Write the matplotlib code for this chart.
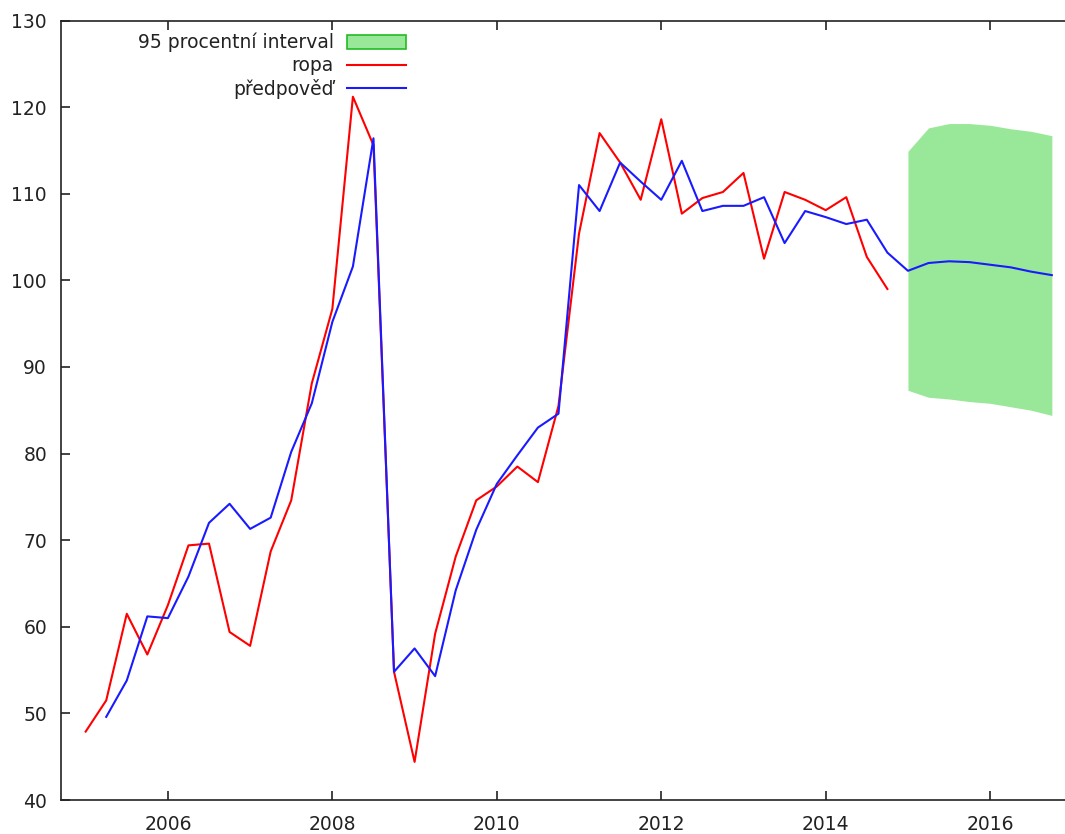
import numpy as np
import matplotlib
matplotlib.use("Agg")
import matplotlib.pyplot as plt
from matplotlib.patches import Patch
from matplotlib.lines import Line2D

# Quarterly oil price index (actual) and model forecast
ropa_start = 2005.0
ropa = [47.9, 51.5, 61.5, 56.8,
        62.5, 69.4, 69.6, 59.4,
        57.8, 68.7, 74.6, 88.1,
        96.7, 121.2, 115.6, 54.8,
        44.4, 59.2, 68.1, 74.6,
        76.2, 78.5, 76.7, 85.5,
        105.4, 117.0, 113.6, 109.3,
        118.6, 107.7, 109.5, 110.2,
        112.4, 102.5, 110.2, 109.3,
        108.1, 109.6, 102.7, 99.0]

predpoved_start = 2005.25
predpoved = [49.6, 53.8, 61.2,
             61.0, 65.8, 72.0, 74.2,
             71.3, 72.6, 80.2, 85.8,
             95.2, 101.6, 116.4, 54.8,
             57.5, 54.3, 64.2, 71.2,
             76.5, 79.8, 83.0, 84.6,
             111.0, 108.0, 113.6, 111.4,
             109.3, 113.8, 108.0, 108.6,
             108.6, 109.6, 104.3, 108.0,
             107.3, 106.5, 107.0, 103.2,
             101.1, 102.0, 102.2, 102.1,
             101.8, 101.5, 101.0, 100.6]

# 95% interval for the out-of-sample forecast (2015Q1 - 2016Q4)
interval_start = 2015.0
interval_upper = [114.9, 117.6, 118.1, 118.1, 117.9, 117.5, 117.2, 116.7]
interval_lower = [87.3, 86.5, 86.3, 86.0, 85.8, 85.4, 85.0, 84.4]

labels = ["95 procentní interval", "ropa", "předpověď"]
x_ticks = [2006, 2008, 2010, 2012, 2014, 2016]
y_ticks = [40, 50, 60, 70, 80, 90, 100, 110, 120, 130]

t_ropa = ropa_start + 0.25 * np.arange(len(ropa))
t_pred = predpoved_start + 0.25 * np.arange(len(predpoved))
t_int = interval_start + 0.25 * np.arange(len(interval_upper))

plt.rcParams["font.family"] = ["DejaVu Sans"]
plt.rcParams["font.size"] = 13.5

W, H = 1065, 834
fig = plt.figure(figsize=(W / 100, H / 100), dpi=100)
ax = fig.add_axes([61 / W, 34 / H, 1 - 61 / W, (800 - 20.5) / H])

fill_face = "#99e899"
fill_edge = "#22bb22"
ax.fill_between(t_int, interval_lower, interval_upper, color=fill_face,
                linewidth=0, zorder=1)
ax.plot(t_ropa, ropa, color="#ff0000", linewidth=1.5, zorder=2)
ax.plot(t_pred, predpoved, color="#1a1aff", linewidth=1.5, zorder=3)

ax.set_xlim(2004.70, 2016.91)
ax.set_ylim(40, 130)
ax.set_xticks(x_ticks)
ax.set_yticks(y_ticks)

text_color = "#222222"
for side in ["left", "bottom", "top"]:
    ax.spines[side].set_linewidth(1.2)
    ax.spines[side].set_color("#222222")
ax.spines["right"].set_visible(False)
ax.tick_params(axis="both", direction="in", length=6.5, width=1.2,
               color="#222222", labelcolor=text_color, labelsize=13.5,
               top=True, right=False)
ax.tick_params(axis="y", pad=10)
ax.tick_params(axis="x", pad=11)

handles = [Patch(facecolor=fill_face, edgecolor=fill_edge, linewidth=1.2),
           Line2D([], [], color="#ff0000", linewidth=1.5),
           Line2D([], [], color="#1a1aff", linewidth=1.5)]
leg = ax.legend(handles, labels, loc="upper right",
                bbox_to_anchor=(406 / W, 1 - 33 / H),
                bbox_transform=fig.transFigure, frameon=False,
                markerfirst=False, handlelength=3.15, handletextpad=0.7,
                labelspacing=0.2, borderpad=0, borderaxespad=0,
                fontsize=13.5)
for txt in leg.get_texts():
    txt.set_color(text_color)

fig.savefig("out.png", dpi=100, facecolor="white")
